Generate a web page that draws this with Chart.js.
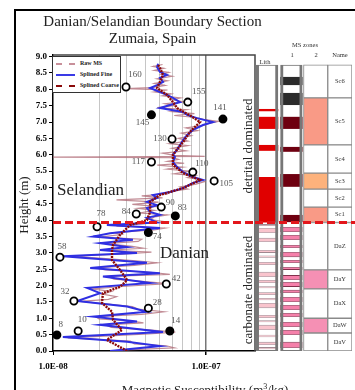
<!DOCTYPE html>
<html>
<head>
<meta charset="utf-8">
<script src="https://cdn.jsdelivr.net/npm/chart.js@4.4.1/dist/chart.umd.min.js"></script>
<style>
    html, body { margin: 0; padding: 0; background: #fff; }
    #wrap { position: relative; width: 355px; height: 390px; overflow: hidden;
            font-family: "Liberation Serif", "DejaVu Serif", serif; color: #222; }
    .layer { position: absolute; left: 0; top: 0; width: 355px; height: 390px; }
    .abs { position: absolute; white-space: nowrap; line-height: 1; }
    .rot { transform: translate(-50%, -50%) rotate(-90deg); }
    #frame { position: absolute; left: 14px; top: 9px; width: 400px; height: 400px;
             border-left: 2px solid #000; border-top: 2px solid #000; }
    #legend { left: 52px; top: 56px; width: 67px; height: 35px; border: 1px solid #333; background: #fff; }
    #legend .row { position: absolute; left: 3px; height: 8px; font-size: 6px; font-weight: bold; }
    #legend .ln { position: absolute; left: 0; top: 3px; width: 19px; }
    #legend .tx { position: absolute; left: 24px; top: 0; }
    .hdr { font-size: 6.5px; color: #333; transform: translateX(-50%); }
</style>
</head>
<body>
<div id="wrap">
    <div id="frame"></div>
    <div class="layer"><canvas id="msChart"></canvas></div>
    <div class="layer"><canvas id="colChart"></canvas></div>

    <div class="abs" style="left:0;width:305px;top:14px;text-align:center;font-size:15px;">Danian/Selandian Boundary Section</div>
    <div class="abs" style="left:0;width:305px;top:31px;text-align:center;font-size:15px;">Zumaia, Spain</div>
    <div class="abs rot" style="left:23px;top:205px;font-size:13px;">Height (m)</div>
    <div class="abs" style="left:105px;width:200px;top:383px;text-align:center;font-size:13px;">Magnetic Susceptibility (m<sup style="font-size:8px">3</sup>/kg)</div>

    <div class="abs" style="left:57px;top:181px;font-size:17px;">Selandian</div>
    <div class="abs" style="left:160px;top:244px;font-size:17px;">Danian</div>
    <div class="abs rot" style="left:247px;top:146px;font-size:13px;">detrital dominated</div>
    <div class="abs rot" style="left:247px;top:290px;font-size:13px;">carbonate dominated</div>

    <div id="legend" class="abs">
        <div class="row" style="top:3px;"><span class="ln" style="border-top:2px dashed #c8909a;"></span><span class="tx">Raw MS</span></div>
        <div class="row" style="top:14px;"><span class="ln" style="border-top:2px solid #3a3ae6;"></span><span class="tx">Splined Fine</span></div>
        <div class="row" style="top:25px;"><span class="ln" style="border-top:2px dashed #8b0a0a;"></span><span class="tx">Splined Coarse</span></div>
    </div>

    <div class="abs hdr" style="left:305px;top:42px;">MS zones</div>
    <div class="abs hdr" style="left:292px;top:52px;">1</div>
    <div class="abs hdr" style="left:316px;top:52px;">2</div>
    <div class="abs hdr" style="left:340px;top:52px;">Name</div>
    <div class="abs hdr" style="left:265px;top:59px;">Lith</div>
</div>

<script>
// Magnetic susceptibility, x in units of 1E-08 m3/kg, height in m
const fineHeight = [0.00, 0.15, 0.28, 0.43, 0.58, 0.80, 0.90, 1.05, 1.20, 1.36,
    1.53, 1.77, 1.93, 2.08, 2.28, 2.38, 2.54, 2.70, 2.90, 3.00,
    3.09, 3.18, 3.30, 3.40, 3.50, 3.60, 3.76, 3.85, 3.93, 4.07,
    4.16, 4.25, 4.37, 4.46, 4.56, 4.68, 4.77, 4.86, 4.98, 5.14,
    5.23, 5.32, 5.47, 5.63, 5.78, 5.93, 6.00, 6.15, 6.30, 6.45,
    6.60, 6.76, 6.91, 7.00, 7.12, 7.22, 7.31, 7.43, 7.52, 7.61,
    7.74, 7.83, 7.92, 8.04, 8.13, 8.23, 8.35, 8.44, 8.53, 8.68, 8.78];
const fineMS = [2.36, 5.0, 3.05, 1.16, 5.24, 2.03, 3.54, 1.83, 4.11, 3.05,
    1.44, 2.03, 1.67, 4.31, 2.12, 5.0, 1.75, 4.11, 1.16, 3.54,
    2.03, 3.05, 2.03, 3.33, 1.83, 2.36, 5.0, 2.25, 4.79, 4.11,
    5.0, 4.31, 4.11, 4.79, 4.11, 4.79, 4.5, 5.82, 7.08, 8.22,
    9.56, 8.22, 7.08, 6.46, 6.08, 6.27, 6.08, 6.46, 6.76, 7.08,
    7.51, 8.22, 9.56, 11.1, 8.73, 7.51, 7.08, 5.0, 5.82, 6.76,
    6.08, 5.56, 5.0, 4.31, 4.79, 5.24, 5.0, 5.56, 5.0, 4.79, 4.86];

const coarseHeight = [0.00, 0.34, 0.64, 0.95, 1.20, 1.47, 1.77, 1.96, 2.17, 2.48,
    2.78, 3.09, 3.24, 3.55, 3.85, 4.00, 4.25, 4.56, 4.77, 4.98,
    5.23, 5.44, 5.69, 6.00, 6.39, 6.70, 7.00, 7.20, 7.43, 7.61,
    7.83, 8.04, 8.23, 8.44, 8.65, 8.75];
const coarseMS = [3.05, 2.25, 2.82, 2.47, 2.43, 2.09, 2.12, 2.74, 3.05, 2.74,
    2.43, 2.43, 2.47, 2.74, 3.19, 4.11, 4.31, 4.31, 5.0, 7.08,
    9.14, 7.08, 6.08, 6.08, 7.08, 7.86, 9.14, 7.86, 6.46, 6.08,
    5.56, 4.79, 5.0, 5.24, 5.0, 4.86];

const rawHeight = [0.02, 0.10, 0.16, 0.22, 0.30, 0.40, 0.45, 0.52, 0.58, 0.64,
    0.72, 0.80, 0.86, 0.92, 0.98, 1.05, 1.12, 1.20, 1.28, 1.36,
    1.44, 1.52, 1.58, 1.66, 1.74, 1.82, 1.90, 1.98, 2.06, 2.12,
    2.20, 2.28, 2.34, 2.40, 2.48, 2.54, 2.62, 2.70, 2.76, 2.84,
    2.90, 2.96, 3.02, 3.08, 3.14, 3.20, 3.28, 3.35, 3.42, 3.48,
    3.56, 3.62, 3.70, 3.76, 3.82, 3.88, 3.95, 4.02, 4.10, 4.16,
    4.22, 4.30, 4.36, 4.42, 4.48, 4.55, 4.62, 4.68, 4.74, 4.80,
    4.88, 4.95, 5.02, 5.10, 5.18, 5.24, 5.30, 5.36, 5.42, 5.50,
    5.56, 5.62, 5.68, 5.74, 5.80, 5.86, 5.91, 5.93, 5.95, 5.98,
    6.05, 6.12, 6.20, 6.28, 6.34, 6.42, 6.50, 6.58, 6.66, 6.74,
    6.82, 6.90, 6.96, 7.02, 7.08, 7.14, 7.20, 7.26, 7.32, 7.38,
    7.44, 7.50, 7.56, 7.62, 7.68, 7.74, 7.80, 7.86, 7.92, 7.98,
    8.02, 8.05, 8.12, 8.18, 8.26, 8.32, 8.40, 8.46, 8.52, 8.58,
    8.64, 8.70, 8.76];
const rawMS = [2.6, 6.2, 5.5, 3.4, 3.2, 1.25, 2.0, 4.2, 6.3, 4.4,
    2.4, 2.2, 3.9, 3.2, 2.0, 1.9, 3.8, 5.3, 3.6, 3.3,
    2.2, 1.5, 2.3, 2.6, 2.1, 2.4, 1.8, 3.0, 5.6, 4.0,
    2.5, 2.3, 5.8, 4.5, 2.2, 1.9, 3.4, 4.8, 3.5, 2.0,
    1.3, 2.8, 4.4, 2.3, 3.9, 3.3, 2.2, 3.6, 3.8, 2.0,
    2.8, 2.5, 4.6, 5.4, 2.6, 3.6, 5.5, 4.3, 4.6, 5.6,
    3.7, 4.6, 3.6, 4.8, 3.3, 4.9, 2.6, 5.2, 3.8, 5.6,
    5.9, 7.6, 6.8, 8.6, 9.8, 9.2, 7.6, 8.5, 6.2, 7.8,
    5.6, 7.0, 4.8, 7.2, 5.6, 6.6, 6.0, 1.0, 9.8, 6.2,
    5.2, 7.4, 6.0, 7.6, 5.8, 7.6, 6.6, 8.0, 6.9, 8.8,
    7.4, 9.6, 10.5, 12.0, 9.6, 8.6, 6.2, 8.4, 6.0, 7.4,
    4.8, 6.2, 5.4, 7.2, 6.0, 6.8, 5.2, 5.9, 4.6, 5.6,
    3.0, 4.4, 5.4, 4.6, 5.6, 4.8, 6.0, 5.1, 5.7, 4.6,
    5.3, 4.5, 5.2];

// Samples
const sampleId = ['160', '155', '141', '145', '130', '117', '110', '105', '90', '84',
    '83', '78', '74', '58', '42', '32', '28', '10', '8', '14'];
const sampleHeight = [8.07, 7.61, 7.09, 7.22, 6.48, 5.78, 5.47, 5.20, 4.40, 4.19,
    4.13, 3.80, 3.62, 2.87, 2.05, 1.53, 1.31, 0.61, 0.49, 0.61];
const sampleMS = [3.0, 7.6, 12.9, 4.4, 6.0, 4.4, 8.2, 11.3, 5.1, 3.5,
    6.3, 1.94, 4.2, 1.11, 5.5, 1.37, 4.2, 1.46, 1.06, 5.8];
const sampleFilled = [0, 0, 1, 1, 0, 0, 0, 0, 0, 0, 1, 0, 1, 0, 0, 0, 0, 0, 1, 1];

const boundaryHeight = 3.93;

// Stratigraphic columns (height ranges, m)
const columnTop = 8.75;
const lithRed = [[7.33, 7.40], [6.79, 7.16], [6.12, 6.30], [3.93, 5.32]];
const lithBands = [[3.82, 3.88], [3.61, 3.76], [3.33, 3.46], [3.00, 3.09], [2.85, 2.92],
    [2.63, 2.72], [2.26, 2.42], [2.08, 2.17], [1.92, 1.98], [1.71, 1.80], [1.55, 1.62],
    [1.31, 1.47], [1.01, 1.10], [0.88, 0.94], [0.64, 0.80], [0.42, 0.50], [0.18, 0.28], [0.05, 0.12]];
const ms1Black = [[8.13, 8.38], [7.52, 7.89]];
const ms1Maroon = [[6.79, 7.16], [6.09, 6.24], [5.02, 5.41], [3.94, 4.16]];
const ms1Pink = [[3.64, 3.79], [3.39, 3.55], [3.15, 3.24], [2.87, 3.03], [2.69, 2.78],
    [2.48, 2.57], [2.17, 2.32], [1.96, 2.11], [1.77, 1.87], [1.50, 1.65], [1.25, 1.41],
    [1.04, 1.16], [0.73, 0.89], [0.49, 0.64], [0.09, 0.28]];
const zoneName = ['Sc6', 'Sc5', 'Sc4', 'Sc3', 'Sc2', 'Sc1', 'DaZ', 'DaY', 'DaX', 'DaW', 'DaV'];
const zoneBase = [7.74, 6.30, 5.44, 4.95, 4.40, 3.93, 2.48, 1.90, 1.00, 0.55, 0.00];
const zoneTop = [8.75, 7.74, 6.30, 5.44, 4.95, 4.40, 3.93, 2.48, 1.90, 1.00, 0.55];
const zone2Class = ['', 'high', '', 'mid', '', 'high', '', 'pink', '', 'pink', ''];

const SERIF = '"Liberation Serif", "DejaVu Serif", serif';
const zone2Colors = { '': '#ffffff', high: '#f99a86', mid: '#fdb27c', pink: '#f590b4' };

function pairs(xs, ys) {
    return ys.map((y, i) => ({ x: xs[i], y: y }));
}

// red dashed boundary, drawn in both charts
const boundaryPlugin = {
    id: 'boundary',
    afterDatasetsDraw(chart, args, opts) {
        const { ctx, chartArea: a, scales } = chart;
        const y = scales.y.getPixelForValue(boundaryHeight);
        ctx.save();
        ctx.strokeStyle = '#e3161b';
        ctx.lineWidth = 3;
        ctx.setLineDash([8, 4]);
        ctx.beginPath();
        ctx.moveTo(a.left, y);
        ctx.lineTo(opts.toEdge ? chart.width : a.right, y);
        ctx.stroke();
        ctx.restore();
    }
};

// top/right border of plot + sample number labels
const msPlugin = {
    id: 'msExtras',
    beforeDatasetsDraw(chart) {
        const { ctx, chartArea: a } = chart;
        ctx.save();
        ctx.strokeStyle = '#444';
        ctx.lineWidth = 1.5;
        ctx.beginPath();
        ctx.moveTo(a.left, a.top);
        ctx.lineTo(a.right, a.top);
        ctx.lineTo(a.right, a.bottom);
        ctx.stroke();
        ctx.restore();
    },
    afterDraw(chart, args, opts) {
        const { ctx } = chart;
        const meta = chart.getDatasetMeta(0);
        ctx.save();
        ctx.font = '9px ' + SERIF;
        ctx.fillStyle = '#555';
        ctx.textAlign = 'center';
        ctx.textBaseline = 'middle';
        meta.data.forEach((pt, i) => {
            const off = opts.offsets[i];
            ctx.fillText(sampleId[i], pt.x + off[0], pt.y + off[1]);
        });
        ctx.restore();
    }
};

const labelOffsets = [[9, -12], [11, -10], [-3, -11], [-9, 8], [-12, 0], [-13, 0], [9, -8], [12, 3],
    [9, -4], [-10, -2], [7, -8], [4, -13], [9, 4], [2, -10], [10, -5], [-9, -9], [9, -6],
    [4, -11], [4, -10], [6, -10]];

const samplePoints = pairs(sampleMS, sampleHeight);

new Chart(document.getElementById('msChart'), {
    type: 'scatter',
    data: {
        datasets: [
            {
                label: 'Samples',
                data: samplePoints,
                order: 0,
                pointRadius: 3.6,
                pointBorderWidth: 1.8,
                pointBorderColor: '#000',
                pointBackgroundColor: sampleFilled.map(f => f ? '#000' : '#fff')
            },
            {
                label: 'Splined Coarse',
                data: pairs(coarseMS, coarseHeight),
                order: 1,
                showLine: true,
                pointRadius: 0,
                borderColor: '#8b0a0a',
                borderWidth: 2.4,
                borderDash: [2, 1]
            },
            {
                label: 'Splined Fine',
                data: pairs(fineMS, fineHeight),
                order: 2,
                showLine: true,
                pointRadius: 0,
                borderColor: '#2f2fe2',
                borderWidth: 2
            },
            {
                label: 'Raw MS',
                data: pairs(rawMS, rawHeight),
                order: 3,
                showLine: true,
                pointRadius: 0,
                borderColor: 'rgba(172, 100, 112, 0.75)',
                borderWidth: 1.2
            }
        ]
    },
    options: {
        responsive: true,
        maintainAspectRatio: false,
        animation: false,
        events: [],
        layout: { padding: { left: 15, right: 100, top: 55, bottom: 0 } },
        plugins: {
            legend: { display: false },
            tooltip: { enabled: false },
            boundary: { toEdge: false },
            msExtras: { offsets: labelOffsets }
        },
        scales: {
            x: {
                type: 'logarithmic',
                min: 1,
                max: 20.9,
                afterFit: s => { s.height = 39; },
                border: { color: '#000', width: 1.5 },
                grid: {
                    color: c => {
                        const v = c.tick ? c.tick.value : 0;
                        if (v > 1.01 && v < 9.99) return '#c6c6c6';
                        if (Math.abs(v - 10) < 0.01) return '#777';
                        return 'rgba(0,0,0,0)';
                    },
                    lineWidth: c => (c.tick && Math.abs(c.tick.value - 10) < 0.01) ? 1.5 : 1,
                    tickColor: c => {
                        const v = c.tick ? c.tick.value : 0;
                        return (Math.abs(v - 1) < 0.01 || Math.abs(v - 10) < 0.01) ? '#000' : 'rgba(0,0,0,0)';
                    },
                    tickLength: 4
                },
                ticks: {
                    autoSkip: false,
                    maxRotation: 0,
                    padding: 6,
                    color: '#000',
                    font: { family: SERIF, size: 9, weight: 'bold' },
                    callback: v => {
                        if (Math.abs(v - 1) < 0.001) return '1.0E-08';
                        if (Math.abs(v - 10) < 0.001) return '1.0E-07';
                        return '';
                    }
                }
            },
            y: {
                type: 'linear',
                min: 0,
                max: 9.05,
                afterFit: s => { s.width = 38; },
                border: { color: '#000', width: 1.5 },
                grid: { drawOnChartArea: false, tickColor: '#000', tickLength: 4 },
                ticks: {
                    stepSize: 0.5,
                    includeBounds: false,
                    autoSkip: false,
                    padding: 2,
                    color: '#000',
                    font: { family: SERIF, size: 9, weight: 'bold' },
                    callback: v => v.toFixed(1)
                }
            }
        }
    },
    plugins: [msPlugin, boundaryPlugin]
});

// strat columns chart
function ranges(col, list) {
    return list.map(r => ({ x: col, y: r }));
}

const zoneLabelPlugin = {
    id: 'zoneLabels',
    afterDatasetsDraw(chart) {
        const { ctx } = chart;
        const idx = chart.data.datasets.findIndex(d => d.label === 'Name');
        const meta = chart.getDatasetMeta(idx);
        ctx.save();
        ctx.font = '6.5px ' + SERIF;
        ctx.fillStyle = '#333';
        ctx.textAlign = 'center';
        ctx.textBaseline = 'middle';
        meta.data.forEach((bar, i) => {
            ctx.fillText(zoneName[i], bar.x, (bar.y + bar.base) / 2);
        });
        ctx.restore();
    }
};

const fullRange = [[0, columnTop]];

new Chart(document.getElementById('colChart'), {
    type: 'bar',
    data: {
        labels: ['Lith', '1', '2', 'Name'],
        datasets: [
            { label: 'bg', order: 9, data: ranges('Lith', fullRange).concat(ranges('1', fullRange)),
              backgroundColor: '#fff', borderWidth: 0 },
            { label: 'lithRed', order: 8, data: ranges('Lith', lithRed), backgroundColor: '#e00000', borderWidth: 0 },
            { label: 'lithBands', order: 8, data: ranges('Lith', lithBands), backgroundColor: '#f9c4cd',
              borderColor: '#a08890', borderWidth: 0.8 },
            { label: 'ms1Black', order: 8, data: ranges('1', ms1Black), backgroundColor: '#2b2b2b', borderWidth: 0 },
            { label: 'ms1Maroon', order: 8, data: ranges('1', ms1Maroon), backgroundColor: '#6e0010', borderWidth: 0 },
            { label: 'ms1Pink', order: 8, data: ranges('1', ms1Pink), backgroundColor: '#f580aa',
              borderColor: '#83304c', borderWidth: 0.8 },
            { label: 'MS2', order: 7, barPercentage: 1,
              data: zoneBase.map((b, i) => ({ x: '2', y: [b, zoneTop[i]] })),
              backgroundColor: zone2Class.map(c => zone2Colors[c]), borderColor: '#8a8a8a', borderWidth: 1 },
            { label: 'Name', order: 7, barPercentage: 1,
              data: zoneBase.map((b, i) => ({ x: 'Name', y: [b, zoneTop[i]] })),
              backgroundColor: '#fff', borderColor: '#8a8a8a', borderWidth: 1 },
            { label: 'outline', order: 0, data: ranges('Lith', fullRange).concat(ranges('1', fullRange)),
              backgroundColor: 'rgba(0,0,0,0)', borderColor: '#777',
              borderWidth: { left: 3, right: 3, top: 1, bottom: 1 } }
        ]
    },
    options: {
        responsive: true,
        maintainAspectRatio: false,
        animation: false,
        events: [],
        datasets: { bar: { grouped: false, barPercentage: 0.92, categoryPercentage: 1, borderSkipped: false } },
        layout: { padding: { left: 255, right: 3, top: 55, bottom: 39 } },
        plugins: {
            legend: { display: false },
            tooltip: { enabled: false },
            boundary: { toEdge: true }
        },
        scales: {
            x: { display: false },
            y: { display: false, min: 0, max: 9.05 }
        }
    },
    plugins: [zoneLabelPlugin, boundaryPlugin]
});
</script>
</body>
</html>
